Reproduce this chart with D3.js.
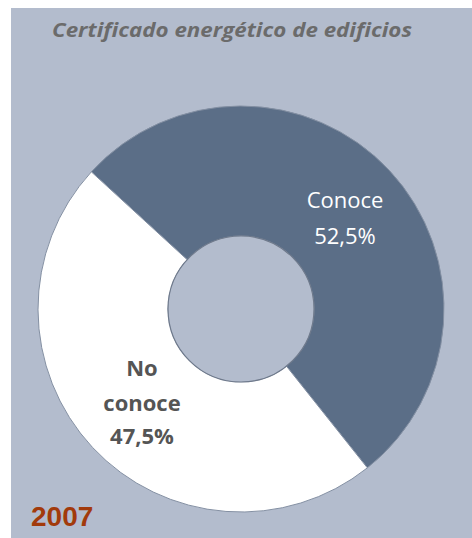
<!DOCTYPE html>
<html><head><meta charset="utf-8">
<script src="https://cdn.jsdelivr.net/npm/d3@7/dist/d3.min.js"></script>
<style>body{margin:0;background:#fff}svg{display:block}</style>
</head><body><svg id="c" width="472" height="538"></svg>
<script>
const categories = ["Conoce", "No conoce"];
const values = [52.5, 47.5];
const valueLabels = ["52,5%", "47,5%"];
const colors = ["#5b6e87", "#ffffff"];
const title = "Certificado energético de edificios";
const year = "2007";

const svg = d3.select("#c");
svg.append("rect").attr("x", 11).attr("y", 8).attr("width", 461).attr("height", 530).attr("fill", "#b3bccd");

svg.append("text").attr("x", 232).attr("y", 37).attr("text-anchor", "middle")
  .attr("font-family", "Open Sans, sans-serif").attr("font-style", "italic").attr("font-weight", "bold")
  .attr("font-size", 20).attr("fill", "#6b6b6b").attr("textLength", 360).attr("lengthAdjust", "spacingAndGlyphs")
  .text(title);

const cx = 241, cy = 309, rOuter = 203, rInner = 73;
const startA = -47.5 * Math.PI / 180;
const pie = d3.pie().sort(null).value(d => d).startAngle(startA).endAngle(startA + 2 * Math.PI);
const arcs = pie(values);
const arc = d3.arc().innerRadius(rInner).outerRadius(rOuter);
const g = svg.append("g").attr("transform", `translate(${cx},${cy})`);
g.selectAll("path").data(arcs).join("path")
  .attr("d", arc).attr("fill", (d, i) => colors[i])
  .attr("stroke", "#8490a3").attr("stroke-width", 1);
g.append("circle").attr("r", rInner).attr("fill", "#b3bccd").attr("stroke", "#6f7a8c").attr("stroke-width", 1.2);

// labels
const lab1 = svg.append("text").attr("text-anchor", "middle").attr("font-family", "Open Sans, sans-serif")
  .attr("font-size", 22).attr("fill", "#ffffff");
lab1.append("tspan").attr("x", 345).attr("y", 208).text(categories[0]);
lab1.append("tspan").attr("x", 345).attr("y", 244).text(valueLabels[0]);

const lab2 = svg.append("text").attr("text-anchor", "middle").attr("font-family", "Open Sans, sans-serif")
  .attr("font-weight", "bold").attr("font-size", 22).attr("fill", "#555555");
lab2.append("tspan").attr("x", 142).attr("y", 376).text("No");
lab2.append("tspan").attr("x", 142).attr("y", 411).text("conoce");
lab2.append("tspan").attr("x", 142).attr("y", 444).text(valueLabels[1]);

svg.append("text").attr("x", 31).attr("y", 526).attr("font-family", "Liberation Sans, Arial, sans-serif")
  .attr("font-weight", "bold").attr("font-size", 28).attr("fill", "#a23a0b").text(year);
</script></body></html>
